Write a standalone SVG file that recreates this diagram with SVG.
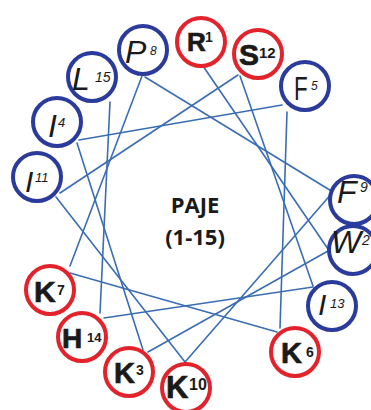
<svg xmlns="http://www.w3.org/2000/svg" width="371" height="410" viewBox="0 0 371 410">
<style>
.bg{fill:#ffffff}
.c line{stroke:#3b6db3;stroke-width:1.6;stroke-linecap:round}
.red{fill:#ffffff;stroke:#e3232b;stroke-width:4}
.blue{fill:#ffffff;stroke:#2b3b9c;stroke-width:4}
.rl{font-family:"Liberation Sans",Arial,sans-serif;font-weight:bold;fill:#1a1a1a;stroke:#1a1a1a;stroke-width:0.7}
.rs{font-family:"Liberation Sans",Arial,sans-serif;font-weight:bold;fill:#1a1a1a}
.bl{font-family:"Liberation Sans",Arial,sans-serif;font-style:italic;fill:#1a1a1a}
.ctr{font-family:"Open Sans","Liberation Sans",sans-serif;font-weight:bold;font-size:22px;fill:#1a1a1a;text-anchor:middle}
</style>
<rect class="bg" x="0" y="0" width="371" height="410"/>
<g id="connectors" class="c">
<line x1="203" y1="66" x2="328" y2="249"/>
<line x1="328" y1="251" x2="148" y2="352"/>
<line x1="143" y1="350" x2="77" y2="143"/>
<line x1="79" y1="140" x2="282" y2="105"/>
<line x1="287" y1="112" x2="280" y2="328"/>
<line x1="277" y1="332" x2="70" y2="273"/>
<line x1="70" y1="266" x2="142" y2="76"/>
<line x1="145" y1="77" x2="333" y2="192"/>
<line x1="333" y1="192" x2="185" y2="362"/>
<line x1="185" y1="362" x2="56" y2="197"/>
<line x1="60" y1="193" x2="238" y2="75"/>
<line x1="240" y1="76" x2="313" y2="286"/>
<line x1="313" y1="287" x2="104" y2="318"/>
<line x1="100" y1="313" x2="110" y2="102"/>
</g>
<g id="R1"><circle class="red" cx="201" cy="42" r="24"/><text class="rl" x="187" y="51" font-size="26">R</text><text class="rs" x="205" y="42" font-size="14">1</text></g>
<g id="S12"><circle class="red" cx="258" cy="54" r="24"/><text class="rl" x="239" y="65" font-size="30">S</text><text class="rs" x="259" y="58" font-size="15">12</text></g>
<g id="F5"><circle class="blue" cx="305" cy="86" r="24"/><text transform="translate(294,100) scale(0.68,1)" x="0" y="0" font-size="33" font-family="Liberation Sans, Arial, sans-serif" fill="#1a1a1a">F</text><text class="bl" x="311" y="90" font-size="12">5</text></g>
<g id="F9"><circle class="blue" cx="354" cy="200" r="24"/><text class="bl" x="337" y="203" font-size="32">F</text><text class="bl" x="360" y="192" font-size="14">9</text></g>
<g id="W2"><circle class="blue" cx="353" cy="250" r="24"/><text class="bl" x="331" y="253" font-size="32">W</text><text class="bl" x="362" y="245" font-size="14">2</text></g>
<g id="I13"><circle class="blue" cx="332" cy="306" r="24"/><text class="bl" x="318" y="315" font-size="30">I</text><text class="bl" x="330" y="308" font-size="13">13</text></g>
<g id="K6"><circle class="red" cx="295" cy="352" r="24"/><text class="rl" x="281" y="363" font-size="29">K</text><text class="rs" x="306" y="357" font-size="14">6</text></g>
<g id="K10"><circle class="red" cx="186" cy="388" r="24"/><text class="rl" x="166" y="398" font-size="31">K</text><text class="rs" x="189" y="390" font-size="16">10</text></g>
<g id="K3"><circle class="red" cx="129" cy="372" r="24"/><text class="rl" x="114" y="383" font-size="29">K</text><text class="rs" x="136" y="375" font-size="14">3</text></g>
<g id="H14"><circle class="red" cx="82" cy="337" r="24"/><text class="rl" x="62" y="348" font-size="28">H</text><text class="rs" x="87" y="342" font-size="13">14</text></g>
<g id="K7"><circle class="red" cx="50" cy="290" r="24"/><text class="rl" x="34" y="302" font-size="30">K</text><text class="rs" x="57" y="295" font-size="14">7</text></g>
<g id="I11"><circle class="blue" cx="37" cy="177" r="24"/><text class="bl" x="25" y="192" font-size="30">I</text><text class="bl" x="35" y="182" font-size="13">11</text></g>
<g id="I4"><circle class="blue" cx="57" cy="122" r="24"/><text class="bl" x="48" y="137" font-size="32">I</text><text class="bl" x="58" y="127" font-size="13">4</text></g>
<g id="L15"><circle class="blue" cx="92" cy="77" r="24"/><text class="bl" x="72" y="90" font-size="32">L</text><text class="bl" x="95" y="82" font-size="14">15</text></g>
<g id="P8"><circle class="blue" cx="143" cy="50" r="24"/><text class="bl" x="125" y="63" font-size="32">P</text><text class="bl" x="150" y="55" font-size="12">8</text></g>
<g id="label"><text class="ctr" x="195" y="213">PAJE</text><text class="ctr" x="195" y="245">(1-15)</text></g>
</svg>
